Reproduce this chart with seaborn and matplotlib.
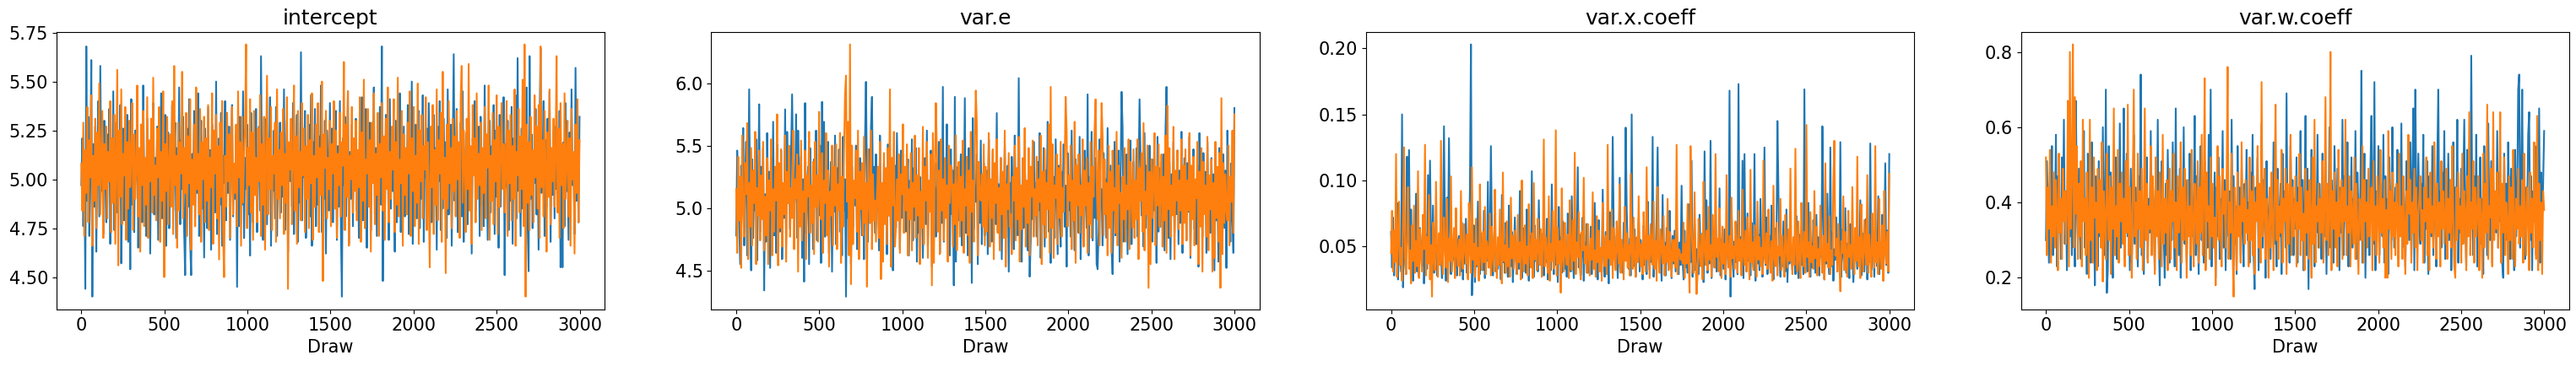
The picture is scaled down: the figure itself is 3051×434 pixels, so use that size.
import numpy as np
import pandas as pd
import matplotlib
matplotlib.use("Agg")
import matplotlib.pyplot as plt
import seaborn as sns

# ---- data (values read/estimated from the reference trace plot) ----
params = ["intercept", "var.e", "var.x.coeff", "var.w.coeff"]
chains = ["chain 1", "chain 2"]
last_draw = 2999

# intercept, in hundredths
intercept_c1_x100 = [
    497, 521, 476, 510, 444, 568, 489, 532, 471, 505, 561, 440, 518, 486, 527, 463, 509, 540, 481, 558, 494, 515, 472, 530, 502,
    478, 523, 499, 536, 467, 512, 488, 545, 474, 507, 529, 483, 516, 492, 538, 457, 503, 526, 479, 511, 495, 533, 468, 519, 454,
    541, 487, 509, 473, 525, 500, 536, 465, 514, 490, 528, 478, 548, 496, 508, 471, 531, 485, 517, 462, 522, 503, 539, 482, 511,
    493, 527, 469, 514, 501, 544, 480, 519, 488, 533, 466, 506, 524, 475, 512, 497, 538, 484, 510, 529, 470, 516, 491, 547, 477,
    520, 495, 532, 473, 451, 509, 526, 486, 541, 468, 451, 513, 499, 535, 480, 522, 493, 544, 471, 507, 530, 485, 518, 460, 526,
    502, 475, 537, 489, 515, 464, 528, 496, 511, 483, 550, 472, 505, 521, 487, 534, 466, 512, 498, 540, 479, 517, 493, 527, 469,
    514, 538, 481, 506, 490, 523, 445, 519, 476, 532, 500, 487, 545, 470, 511, 495, 528, 482, 516, 461, 534, 503, 478, 521, 492,
    536, 473, 508, 527, 484, 563, 497, 469, 515, 489, 531, 477, 520, 504, 542, 466, 511, 494, 525, 480, 537, 471, 509, 498, 529,
    483, 518, 491, 546, 474, 507, 530, 463, 513, 499, 524, 486, 539, 472, 516, 495, 533, 468, 510, 488, 565, 479, 521, 501, 535,
    470, 512, 494, 528, 481, 543, 466, 519, 503, 536, 476, 509, 487, 522, 497, 548, 473, 515, 490, 530, 462, 525, 506, 484, 539,
    495, 526, 478, 511, 502, 535, 469, 517, 486, 540, 474, 440, 521, 497, 532, 481, 509, 545, 467, 514, 490, 528, 476, 519, 503,
    531, 484, 513, 470, 526, 498, 542, 479, 507, 493, 536, 465, 518, 489, 529, 474, 512, 500, 547, 482, 516, 471, 524, 496, 537,
    487, 568, 448, 520, 476, 533, 499, 512, 469, 541, 485, 523, 494, 508, 463, 530, 478, 517, 502, 544, 473, 510, 491, 527, 481,
    515, 497, 538, 472, 520, 486, 550, 467, 511, 493, 528, 480, 504, 535, 475, 518, 490, 543, 468, 512, 501, 526, 483, 539, 496,
    522, 478, 509, 533, 488, 516, 464, 527, 499, 540, 474, 512, 485, 531, 493, 519, 470, 546, 482, 507, 528, 466, 514, 564, 489,
    505, 536, 473, 518, 494, 529, 481, 545, 468, 511, 497, 524, 477, 534, 489, 515, 462, 521, 503, 540, 484, 510, 492, 527, 471,
    532, 487, 513, 476, 548, 495, 520, 469, 508, 530, 483, 517, 499, 538, 472, 525, 491, 514, 465, 533, 486, 519, 502, 542, 451,
    518, 496, 530, 474, 512, 489, 537, 467, 521, 503, 543, 480, 562, 494, 515, 471, 526, 485, 534, 499, 509, 547, 477, 453, 563,
    490, 523, 475, 511, 498, 536, 482, 517, 464, 528, 567, 493, 509, 540, 471, 520, 486, 531, 501, 545, 468, 514, 492, 525, 480,
    527, 495, 510, 488, 535, 455, 502, 455, 519, 476, 539, 494, 513, 469, 524, 484, 546, 497, 508, 472, 557, 489, 516, 478, 532,
]
intercept_c2_x100 = [
    508, 484, 529, 471, 515, 493, 537, 478, 520, 501, 543, 466, 512, 489, 531, 475, 524, 497, 549, 482, 509, 535, 470, 518, 495,
    527, 480, 514, 499, 540, 473, 521, 488, 533, 467, 510, 556, 456, 525, 491, 546, 477, 513, 502, 537, 469, 519, 485, 530, 496,
    512, 539, 474, 523, 490, 505, 548, 481, 516, 463, 528, 497, 535, 476, 511, 487, 542, 470, 520, 499, 531, 483, 552, 492, 507,
    479, 526, 501, 537, 468, 514, 489, 545, 450, 518, 494, 532, 477, 509, 523, 486, 540, 472, 558, 497, 512, 465, 529, 484, 519,
    503, 555, 480, 516, 493, 534, 471, 522, 498, 541, 464, 510, 487, 528, 476, 547, 495, 513, 482, 536, 468, 519, 500, 532, 478,
    521, 489, 538, 474, 511, 496, 544, 467, 525, 503, 533, 480, 517, 459, 529, 491, 540, 473, 450, 512, 486, 534, 499, 523, 470,
    514, 537, 482, 508, 493, 528, 476, 545, 501, 519, 466, 532, 488, 510, 527, 569, 475, 516, 497, 541, 483, 524, 469, 535, 492,
    511, 478, 526, 499, 543, 471, 518, 487, 532, 464, 509, 553, 482, 521, 495, 537, 474, 512, 503, 529, 468, 546, 490, 515, 480,
    524, 497, 536, 472, 513, 488, 542, 444, 519, 505, 531, 477, 510, 548, 484, 522, 467, 535, 496, 514, 479, 539, 502, 526, 473,
    517, 490, 533, 475, 520, 498, 544, 469, 512, 486, 528, 501, 539, 473, 516, 492, 550, 448, 523, 506, 535, 480, 511, 495, 530,
    476, 518, 503, 540, 485, 525, 470, 513, 497, 534, 481, 519, 507, 560, 474, 528, 491, 545, 466, 512, 500, 537, 483, 521, 494,
    530, 479, 515, 496, 542, 468, 524, 489, 551, 475, 510, 503, 536, 486, 520, 463, 529, 498, 544, 477, 513, 492, 534, 471, 518,
    501, 539, 484, 522, 469, 531, 495, 547, 478, 514, 490, 527, 505, 541, 473, 519, 487, 552, 481, 510, 498, 535, 466, 523, 492,
    516, 482, 529, 503, 545, 471, 521, 494, 537, 476, 512, 488, 549, 467, 525, 499, 533, 480, 517, 505, 542, 474, 519, 491, 455,
    527, 496, 538, 472, 515, 487, 546, 479, 520, 503, 534, 468, 555, 490, 511, 452, 528, 485, 540, 498, 516, 475, 531, 494, 522,
    481, 535, 500, 519, 470, 542, 558, 488, 525, 509, 473, 531, 495, 559, 484, 517, 467, 538, 502, 521, 478, 544, 490, 513, 497,
    529, 474, 516, 493, 537, 480, 523, 506, 548, 469, 512, 489, 534, 477, 520, 499, 543, 472, 527, 486, 511, 539, 495, 518, 483,
    507, 540, 471, 525, 498, 533, 479, 517, 490, 546, 466, 514, 502, 536, 483, 522, 495, 551, 476, 569, 440, 528, 488, 519, 474,
    532, 492, 515, 478, 543, 501, 527, 485, 538, 470, 568, 496, 520, 481, 535, 507, 463, 524, 491, 546, 477, 516, 499, 531, 486,
    512, 563, 483, 526, 470, 539, 497, 518, 475, 544, 490, 509, 530, 481, 521, 466, 536, 500, 514, 462, 528, 493, 541, 478, 520,
]

# var.e, in hundredths
var_e_c1_x100 = [
    478, 546, 519, 488, 455, 534, 499, 564, 470, 526, 553, 462, 508, 595, 491, 450, 539, 476, 520, 498, 555, 458, 515, 583, 481,
    533, 494, 548, 434, 511, 473, 560, 505, 529, 452, 540, 488, 569, 478, 518, 464, 551, 499, 525, 481, 546, 459, 512, 492, 579,
    470, 561, 504, 522, 483, 544, 591, 532, 498, 512, 575, 476, 562, 516, 491, 541, 460, 523, 441, 584, 480, 509, 533, 455, 548,
    490, 515, 467, 539, 508, 562, 474, 526, 494, 550, 456, 585, 504, 569, 477, 529, 487, 553, 464, 511, 537, 449, 520, 497, 558,
    471, 532, 509, 547, 481, 516, 462, 557, 498, 523, 429, 543, 492, 512, 564, 455, 533, 485, 520, 502, 550, 467, 513, 490, 540,
    506, 478, 527, 459, 553, 601, 518, 473, 547, 488, 565, 589, 511, 533, 480, 543, 499, 522, 466, 558, 491, 515, 476, 536, 504,
    525, 463, 551, 494, 516, 476, 540, 450, 509, 534, 484, 560, 501, 519, 467, 546, 492, 527, 504, 529, 481, 513, 539, 462, 522,
    498, 555, 474, 532, 490, 548, 457, 511, 480, 525, 505, 512, 460, 515, 540, 487, 562, 469, 520, 499, 546, 453, 529, 494, 516,
    477, 536, 504, 553, 464, 519, 488, 597, 473, 526, 509, 567, 484, 515, 462, 547, 495, 530, 438, 589, 457, 511, 533, 490, 520,
    543, 470, 522, 499, 588, 480, 512, 462, 548, 492, 527, 440, 572, 483, 518, 505, 543, 455, 523, 488, 554, 471, 509, 536, 478,
    508, 530, 463, 555, 495, 522, 473, 546, 488, 511, 487, 576, 481, 519, 499, 540, 459, 525, 491, 551, 476, 513, 534, 449, 520,
    487, 541, 512, 467, 558, 494, 526, 478, 604, 502, 494, 457, 518, 484, 534, 511, 511, 466, 499, 445, 474, 523, 491, 553, 506,
    520, 477, 537, 498, 560, 460, 515, 490, 548, 469, 530, 505, 569, 481, 519, 456, 543, 492, 525, 476, 555, 508, 463, 534, 495,
    469, 529, 505, 551, 485, 518, 453, 544, 498, 522, 477, 562, 490, 511, 466, 539, 502, 526, 480, 557, 459, 513, 533, 492, 546,
    509, 484, 591, 462, 525, 501, 561, 474, 519, 492, 540, 455, 451, 481, 555, 504, 515, 470, 544, 495, 523, 476, 564, 488, 512,
    534, 466, 447, 499, 553, 478, 529, 491, 546, 457, 522, 593, 565, 473, 513, 483, 543, 463, 530, 494, 554, 471, 511, 537, 487,
    502, 548, 477, 526, 587, 541, 494, 516, 469, 560, 484, 534, 508, 462, 550, 488, 523, 473, 539, 498, 519, 456, 557, 481, 532,
    485, 522, 504, 543, 466, 562, 597, 512, 476, 537, 459, 527, 501, 553, 480, 518, 495, 546, 471, 530, 488, 561, 464, 511, 540,
    519, 474, 536, 497, 557, 460, 525, 506, 547, 483, 513, 471, 534, 453, 560, 490, 522, 477, 544, 499, 529, 464, 553, 494, 515,
    480, 540, 505, 527, 450, 551, 490, 516, 457, 548, 498, 520, 476, 543, 484, 530, 452, 562, 502, 511, 473, 536, 491, 464, 580,
]
var_e_c2_x100 = [
    515, 464, 541, 490, 525, 452, 558, 499, 477, 536, 511, 568, 459, 520, 485, 548, 470, 530, 504, 561, 455, 516, 494, 546, 474,
    526, 491, 553, 466, 509, 478, 540, 455, 522, 498, 555, 462, 515, 481, 533, 506, 575, 454, 536, 484, 547, 469, 520, 495, 558,
    457, 529, 504, 550, 477, 516, 492, 562, 467, 523, 508, 543, 449, 534, 485, 554, 474, 513, 497, 546, 459, 526, 509, 561, 480,
    518, 488, 537, 463, 553, 501, 526, 473, 577, 512, 491, 544, 464, 522, 504, 560, 478, 530, 453, 513, 494, 550, 470, 533, 502,
    551, 467, 519, 498, 560, 456, 525, 485, 544, 591, 606, 505, 569, 462, 631, 439, 550, 471, 522, 508, 546, 481, 562, 459, 529,
    499, 536, 478, 557, 488, 520, 437, 547, 508, 488, 562, 467, 527, 490, 506, 473, 512, 533, 476, 553, 443, 520, 457, 544, 487,
    532, 471, 548, 494, 595, 453, 540, 502, 561, 469, 484, 523, 490, 543, 464, 527, 511, 567, 480, 533, 498, 551, 462, 515, 491,
    544, 466, 520, 501, 558, 476, 526, 494, 548, 455, 513, 484, 565, 471, 533, 506, 553, 460, 522, 497, 543, 438, 560, 456, 529,
    584, 547, 481, 530, 463, 555, 498, 523, 474, 540, 492, 518, 457, 550, 504, 534, 532, 469, 519, 487, 558, 466, 512, 537, 477,
    525, 490, 554, 464, 515, 502, 541, 478, 530, 456, 561, 497, 522, 473, 546, 594, 568, 462, 537, 509, 506, 527, 485, 551, 470,
    533, 481, 515, 560, 469, 523, 492, 547, 459, 536, 504, 555, 480, 516, 466, 540, 495, 529, 476, 562, 453, 519, 499, 544, 485,
    495, 463, 525, 506, 550, 474, 532, 491, 557, 457, 518, 483, 540, 501, 564, 469, 522, 488, 548, 462, 533, 509, 554, 477, 515,
    494, 541, 470, 523, 505, 558, 455, 529, 487, 547, 476, 520, 499, 567, 464, 597, 484, 551, 460, 518, 508, 543, 471, 532, 492,
    553, 477, 516, 497, 537, 589, 561, 485, 526, 506, 550, 467, 522, 490, 569, 456, 534, 502, 543, 480, 518, 494, 555, 469, 530,
    502, 540, 464, 520, 487, 553, 476, 533, 509, 564, 587, 523, 491, 546, 470, 530, 584, 557, 478, 539, 495, 520, 462, 550, 484,
    529, 464, 546, 498, 516, 480, 561, 470, 534, 504, 512, 460, 525, 491, 548, 473, 518, 499, 555, 467, 537, 511, 484, 547, 476,
    522, 491, 555, 459, 532, 506, 544, 481, 568, 466, 513, 495, 550, 436, 529, 455, 539, 492, 522, 560, 470, 533, 502, 551, 485,
    512, 543, 469, 525, 490, 558, 464, 582, 499, 548, 477, 518, 494, 565, 459, 530, 506, 546, 483, 522, 498, 555, 471, 534, 488,
    547, 474, 522, 498, 560, 462, 534, 491, 541, 470, 523, 508, 553, 455, 529, 485, 548, 449, 537, 495, 518, 477, 557, 466, 526,
    499, 539, 449, 520, 460, 553, 492, 533, 473, 544, 436, 588, 463, 536, 488, 527, 497, 490, 550, 470, 525, 505, 562, 480, 575,
]

# var.x.coeff, in thousandths
var_x_c1_x1000 = [
    61, 34, 72, 28, 49, 39, 83, 25, 56, 44, 31, 150, 19, 67, 42, 29, 118, 53, 123, 36, 78, 47, 24, 58, 38,
    90, 31, 52, 27, 64, 45, 35, 73, 22, 48, 59, 33, 104, 41, 115, 55, 37, 81, 30, 46, 65, 28, 51, 39, 44,
    43, 26, 69, 141, 57, 24, 87, 47, 132, 62, 29, 50, 40, 45, 34, 76, 28, 54, 58, 42, 31, 68, 25, 49, 37,
    71, 30, 58, 44, 95, 203, 13, 38, 66, 23, 46, 35, 84, 41, 29, 60, 48, 32, 77, 26, 51, 39, 99, 34, 55,
    126, 63, 28, 47, 74, 31, 45, 33, 42, 57, 25, 89, 38, 52, 30, 68, 44, 27, 81, 49, 35, 61, 23, 46, 72,
    40, 29, 55, 33, 92, 45, 26, 64, 37, 51, 30, 78, 43, 24, 58, 35, 107, 48, 27, 66, 39, 53, 31, 85, 42,
    39, 34, 60, 28, 49, 38, 71, 25, 54, 44, 32, 97, 47, 29, 63, 36, 52, 23, 80, 41, 57, 30, 69, 45, 33,
    50, 27, 75, 39, 56, 31, 88, 43, 26, 62, 37, 48, 110, 34, 59, 28, 45, 72, 24, 53, 40, 67, 30, 46, 36,
    65, 29, 51, 42, 83, 33, 57, 25, 70, 38, 47, 31, 93, 44, 27, 61, 35, 54, 22, 76, 41, 50, 133, 64, 48,
    37, 58, 26, 45, 102, 34, 52, 30, 68, 40, 140, 79, 46, 33, 56, 28, 150, 43, 35, 63, 27, 49, 39, 71, 31,
    55, 41, 25, 66, 36, 48, 29, 84, 44, 32, 60, 38, 133, 27, 51, 43, 73, 125, 57, 35, 46, 24, 89, 39, 53,
    28, 64, 42, 33, 77, 47, 26, 58, 37, 62, 31, 69, 45, 29, 53, 36, 96, 40, 25, 62, 34, 49, 30, 82, 44,
    38, 115, 27, 48, 67, 32, 48, 41, 29, 74, 46, 35, 60, 23, 122, 43, 85, 30, 57, 37, 130, 26, 64, 45, 34,
    70, 31, 50, 39, 94, 28, 55, 44, 33, 63, 25, 47, 57, 36, 168, 12, 78, 42, 27, 54, 38, 66, 29, 173, 41,
    57, 35, 115, 26, 120, 43, 31, 75, 39, 52, 28, 68, 46, 34, 120, 24, 49, 37, 59, 32, 86, 44, 27, 55, 125,
    36, 72, 29, 47, 58, 33, 81, 42, 25, 64, 38, 51, 145, 92, 45, 27, 56, 35, 69, 41, 31, 78, 23, 50, 37,
    61, 44, 32, 53, 51, 29, 73, 40, 26, 59, 47, 36, 48, 29, 169, 38, 55, 31, 83, 43, 27, 52, 34, 70, 46,
    30, 74, 39, 57, 28, 66, 42, 141, 76, 25, 51, 37, 90, 45, 29, 125, 35, 61, 24, 48, 40, 72, 31, 56, 38,
    129, 27, 63, 44, 34, 79, 30, 52, 41, 26, 67, 36, 58, 23, 38, 46, 47, 33, 54, 39, 85, 28, 60, 43, 31,
    49, 71, 25, 56, 38, 128, 32, 47, 58, 27, 64, 42, 35, 88, 29, 53, 40, 74, 24, 51, 113, 36, 62, 30, 120,
]
var_x_c2_x1000 = [
    45, 77, 31, 62, 38, 120, 27, 53, 84, 36, 49, 24, 70, 125, 41, 29, 58, 95, 33, 47, 22, 66, 39, 81, 30,
    54, 35, 107, 26, 63, 43, 31, 74, 48, 127, 28, 57, 37, 89, 25, 51, 12, 68, 40, 32, 99, 46, 27, 60, 36,
    130, 42, 29, 72, 50, 34, 86, 23, 56, 39, 103, 31, 47, 64, 26, 79, 44, 35, 55, 28, 92, 41, 33, 67, 48,
    37, 59, 25, 83, 45, 30, 110, 40, 52, 27, 71, 36, 49, 24, 97, 43, 32, 61, 38, 80, 29, 54, 46, 34, 75,
    28, 65, 42, 31, 93, 47, 26, 57, 36, 78, 44, 22, 106, 39, 51, 30, 69, 35, 48, 27, 87, 41, 58, 33, 62,
    46, 29, 74, 38, 53, 25, 100, 43, 31, 66, 37, 50, 28, 82, 45, 34, 60, 26, 98, 40, 55, 32, 71, 47, 36,
    63, 27, 49, 131, 35, 57, 42, 30, 88, 24, 52, 39, 77, 33, 46, 138, 28, 64, 37, 54, 15, 94, 41, 31, 68,
    44, 36, 59, 26, 85, 48, 32, 70, 39, 121, 29, 53, 42, 76, 34, 25, 61, 47, 102, 37, 50, 30, 67, 43, 28,
    56, 40, 91, 33, 47, 27, 73, 38, 62, 31, 49, 24, 83, 45, 35, 58, 29, 127, 41, 54, 36, 78, 26, 64, 43,
    32, 69, 48, 37, 97, 30, 55, 44, 25, 80, 39, 60, 34, 51, 28, 105, 46, 33, 72, 41, 27, 57, 38, 88, 45,
    35, 52, 29, 76, 43, 31, 110, 40, 58, 26, 67, 47, 36, 84, 33, 54, 24, 95, 42, 30, 63, 49, 37, 73, 28,
    50, 38, 86, 32, 61, 45, 27, 55, 39, 55, 34, 127, 29, 48, 47, 40, 44, 37, 68, 26, 52, 37, 82, 41, 15,
    126, 64, 46, 30, 91, 38, 14, 28, 71, 43, 35, 59, 25, 99, 47, 36, 62, 32, 80, 40, 51, 27, 74, 45, 34,
    120, 42, 56, 31, 79, 48, 26, 65, 37, 52, 29, 104, 44, 34, 58, 27, 87, 41, 50, 33, 69, 46, 30, 77, 39,
    55, 28, 93, 43, 36, 62, 31, 72, 47, 25, 108, 38, 53, 32, 66, 45, 27, 84, 40, 57, 35, 49, 29, 115, 42,
    37, 60, 33, 78, 46, 30, 54, 24, 96, 41, 35, 68, 28, 50, 43, 86, 32, 58, 38, 27, 74, 47, 34, 63, 39,
    109, 44, 29, 57, 36, 124, 45, 31, 69, 40, 26, 83, 48, 35, 61, 30, 142, 42, 53, 27, 76, 38, 50, 33, 92,
    41, 65, 28, 48, 35, 81, 44, 30, 58, 25, 113, 39, 52, 34, 73, 29, 47, 36, 100, 130, 43, 56, 31, 67, 38,
    16, 54, 45, 88, 32, 61, 37, 27, 77, 42, 51, 33, 95, 46, 29, 64, 39, 118, 35, 57, 26, 82, 44, 31, 70,
    48, 36, 104, 30, 59, 41, 27, 75, 45, 34, 126, 38, 53, 29, 86, 43, 33, 66, 24, 92, 47, 37, 61, 31, 105,
]

# var.w.coeff, in hundredths
var_w_c1_x100 = [
    30, 51, 38, 24, 45, 33, 55, 26, 41, 36, 58, 23, 47, 32, 40, 25, 52, 35, 62, 29, 43, 22, 48, 37, 31,
    44, 26, 54, 36, 23, 67, 39, 30, 49, 33, 25, 46, 38, 59, 28, 41, 21, 53, 35, 45, 24, 56, 32, 40, 18,
    47, 37, 23, 51, 31, 43, 28, 60, 35, 26, 70, 16, 22, 55, 33, 48, 30, 20, 41, 36, 52, 25, 44, 32, 61,
    28, 46, 35, 65, 25, 38, 53, 31, 43, 22, 49, 24, 37, 58, 29, 44, 33, 23, 47, 40, 74, 26, 36, 21, 45,
    35, 52, 25, 41, 32, 59, 28, 46, 38, 22, 48, 33, 62, 30, 18, 43, 51, 37, 31, 20, 45, 26, 54, 39, 24,
    40, 30, 56, 36, 23, 65, 32, 44, 26, 49, 20, 39, 33, 60, 29, 46, 24, 41, 35, 53, 22, 45, 31, 37, 63,
    26, 47, 33, 21, 43, 55, 30, 38, 24, 51, 35, 45, 28, 58, 32, 70, 23, 40, 36, 48, 20, 44, 31, 52, 25,
    41, 35, 59, 28, 46, 22, 38, 53, 31, 43, 25, 62, 33, 47, 29, 39, 21, 55, 36, 44, 26, 49, 32, 23, 45,
    37, 54, 30, 40, 24, 48, 33, 58, 26, 17, 44, 36, 52, 22, 41, 32, 61, 28, 46, 38, 20, 51, 35, 30, 43,
    25, 47, 33, 56, 29, 40, 23, 49, 37, 31, 45, 21, 53, 35, 43, 28, 69, 32, 39, 24, 55, 36, 46, 26, 41,
    33, 52, 24, 44, 37, 59, 30, 46, 22, 39, 63, 26, 49, 17, 43, 35, 54, 29, 47, 23, 40, 32, 58, 28, 45,
    36, 25, 53, 38, 31, 48, 21, 43, 33, 60, 28, 46, 37, 24, 55, 40, 30, 49, 35, 22, 44, 32, 62, 26, 47,
    39, 31, 56, 23, 45, 36, 52, 28, 41, 33, 59, 25, 48, 38, 30, 44, 75, 24, 35, 53, 20, 46, 32, 40, 26,
    49, 63, 37, 29, 72, 22, 43, 35, 55, 26, 45, 39, 31, 58, 24, 47, 33, 41, 21, 52, 36, 30, 60, 38, 28,
    44, 35, 54, 25, 40, 32, 61, 28, 46, 37, 23, 51, 33, 43, 30, 56, 26, 47, 65, 22, 70, 39, 31, 53, 36,
    29, 45, 38, 58, 24, 41, 33, 51, 21, 47, 36, 31, 55, 26, 44, 39, 23, 52, 70, 32, 43, 28, 48, 35, 59,
    25, 40, 33, 53, 30, 46, 22, 38, 56, 28, 44, 36, 62, 24, 41, 32, 49, 29, 45, 62, 37, 23, 54, 35, 43,
    31, 79, 39, 26, 47, 33, 58, 23, 44, 37, 52, 29, 41, 21, 55, 35, 45, 26, 61, 38, 30, 51, 24, 46, 36,
    40, 32, 59, 28, 48, 35, 43, 24, 20, 53, 33, 45, 30, 56, 38, 25, 49, 36, 44, 22, 54, 31, 41, 70, 74,
    28, 46, 70, 33, 52, 25, 44, 37, 58, 64, 30, 47, 22, 43, 35, 55, 26, 40, 32, 65, 24, 48, 36, 45, 59,
]
var_w_c2_x100 = [
    52, 26, 44, 33, 54, 24, 39, 31, 48, 28, 46, 36, 22, 53, 32, 41, 25, 49, 35, 43, 29, 38, 67, 23, 80,
    33, 47, 82, 28, 68, 37, 55, 25, 45, 31, 51, 23, 62, 35, 41, 26, 48, 32, 20, 62, 30, 44, 24, 52, 36,
    40, 22, 49, 32, 46, 28, 56, 19, 43, 35, 25, 53, 38, 30, 47, 21, 44, 33, 65, 26, 39, 31, 54, 24, 45,
    35, 48, 29, 41, 23, 51, 32, 66, 26, 44, 36, 20, 46, 70, 31, 40, 25, 53, 33, 43, 28, 49, 22, 37, 65,
    30, 45, 24, 39, 33, 55, 26, 47, 36, 21, 52, 31, 43, 25, 48, 35, 23, 58, 29, 41, 32, 46, 22, 38, 49,
    25, 43, 35, 53, 28, 40, 22, 47, 32, 37, 56, 24, 44, 30, 49, 36, 20, 46, 31, 39, 26, 54, 33, 23, 45,
    38, 29, 51, 24, 44, 32, 58, 26, 41, 73, 22, 48, 35, 39, 25, 52, 31, 45, 28, 36, 18, 43, 55, 30, 47,
    33, 23, 49, 37, 43, 28, 46, 76, 25, 40, 32, 53, 26, 15, 44, 36, 22, 48, 31, 39, 24, 56, 35, 41, 29,
    46, 32, 38, 23, 52, 30, 43, 26, 47, 21, 40, 35, 55, 28, 45, 24, 72, 31, 37, 49, 25, 41, 33, 20, 44,
    28, 48, 36, 22, 43, 66, 30, 46, 25, 39, 32, 54, 24, 41, 35, 49, 21, 45, 29, 38, 58, 26, 44, 31, 37,
    47, 23, 40, 33, 53, 26, 44, 30, 37, 22, 49, 32, 43, 25, 46, 36, 20, 52, 29, 62, 24, 39, 35, 45, 28,
    41, 32, 51, 24, 38, 68, 30, 45, 26, 36, 80, 22, 43, 33, 48, 28, 40, 23, 54, 31, 37, 46, 25, 44, 35,
    62, 26, 39, 32, 47, 23, 43, 36, 29, 52, 25, 45, 33, 21, 41, 38, 30, 55, 24, 46, 35, 40, 28, 49, 31,
    37, 44, 22, 51, 30, 39, 26, 47, 35, 24, 54, 32, 41, 28, 46, 20, 38, 20, 59, 33, 43, 25, 48, 31, 40,
    26, 45, 36, 23, 53, 31, 39, 25, 47, 33, 21, 43, 29, 58, 37, 46, 24, 40, 32, 49, 28, 44, 22, 37, 41,
    47, 30, 38, 24, 44, 35, 52, 26, 41, 22, 48, 32, 39, 28, 56, 36, 25, 45, 31, 40, 23, 51, 33, 43, 29,
    35, 49, 25, 41, 32, 46, 28, 55, 36, 23, 20, 44, 30, 48, 33, 39, 24, 53, 29, 43, 37, 22, 47, 31, 64,
    26, 40, 33, 51, 24, 44, 31, 37, 47, 22, 41, 35, 20, 53, 28, 45, 32, 66, 25, 39, 36, 49, 23, 64, 30,
    43, 33, 48, 28, 38, 64, 24, 45, 32, 52, 26, 40, 35, 21, 47, 30, 44, 25, 54, 36, 23, 41, 33, 49, 29,
    39, 31, 46, 24, 53, 35, 26, 44, 37, 22, 48, 32, 41, 28, 56, 36, 25, 63, 22, 45, 30, 40, 21, 43, 38,
]

series = {
    "intercept": ([v / 100 for v in intercept_c1_x100], [v / 100 for v in intercept_c2_x100]),
    "var.e": ([v / 100 for v in var_e_c1_x100], [v / 100 for v in var_e_c2_x100]),
    "var.x.coeff": ([v / 1000 for v in var_x_c1_x1000], [v / 1000 for v in var_x_c2_x1000]),
    "var.w.coeff": ([v / 100 for v in var_w_c1_x100], [v / 100 for v in var_w_c2_x100]),
}

rows = []
for p in params:
    for ch, vals in zip(chains, series[p]):
        draws = np.linspace(0, last_draw, len(vals))
        for d, v in zip(draws, vals):
            rows.append({"param": p, "chain": ch, "Draw": d, "value": v})
df = pd.DataFrame(rows)

plt.rcParams["font.size"] = 15
plt.rcParams["font.family"] = ["DejaVu Sans"]

fig, axes = plt.subplots(1, 4, figsize=(30.51, 4.34), dpi=100)
fig.subplots_adjust(left=0.0219, right=0.9973, top=0.9131, bottom=0.1551, wspace=0.195)

palette = {"chain 1": "#1f77b4", "chain 2": "#ff7f0e"}
for ax, p in zip(axes, params):
    sub = df[df["param"] == p]
    sns.lineplot(data=sub, x="Draw", y="value", hue="chain", palette=palette,
                 estimator=None, sort=False, legend=False, linewidth=1.5, ax=ax)
    ax.set_title(p)
    ax.set_xlabel("Draw")
    ax.set_ylabel("")

fig.savefig("out.png", dpi=100)
